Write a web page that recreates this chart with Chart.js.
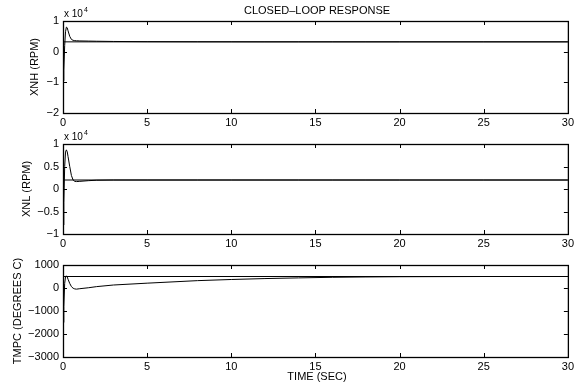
<!DOCTYPE html>
<html>
<head>
<meta charset="utf-8">
<script src="https://cdn.jsdelivr.net/npm/chart.js@4"></script>
<style>
body { margin: 0; background: #fff; }
#wrap { position: relative; width: 577px; height: 385px; }
canvas { position: absolute; left: 0; }
</style>
</head>
<body>
<div id="wrap">
  <canvas id="c1" width="577" height="130" style="top:0px"></canvas>
  <canvas id="c2" width="577" height="120" style="top:130px"></canvas>
  <canvas id="c3" width="577" height="135" style="top:250px"></canvas>
</div>
<script>
/* time axis (sec) and responses */
const time = [0, 0.05, 0.1, 0.15, 0.2, 0.25, 0.3, 0.4, 0.5, 0.6, 0.7, 0.8, 1, 1.5, 2, 3, 5, 8, 10, 12, 14, 16, 18, 20, 25, 30];
const xnh  = [-9500, -6000, 2000, 6500, 8000, 7800, 6800, 5000, 4000, 3700, 3600, 3550, 3500, 3450, 3400, 3330, 3260, 3220, 3210, 3200, 3200, 3200, 3200, 3200, 3200, 3200];
const xnl  = [-8000, -3000, 5000, 8200, 8700, 8300, 7200, 5000, 3000, 2000, 1700, 1650, 1700, 1850, 1950, 2000, 2000, 2000, 2000, 2000, 2000, 2000, 2000, 2000, 2000, 2000];
const tmpc = [-1500, -800, 200, 480, 530, 480, 380, 200, 60, -10, -40, -50, -30, 10, 60, 130, 210, 320, 370, 410, 440, 465, 480, 490, 500, 500];

/* demand lines */
const demandTime = [0, 30];
const xnhDemand  = [3200, 3200];
const xnlDemand  = [2000, 2000];
const tmpcDemand = [500, 500];

const xTicks = [0, 5, 10, 15, 20, 25, 30];

Chart.defaults.font.family = '"Liberation Sans", Arial, Helvetica, sans-serif';
Chart.defaults.font.size = 11;
Chart.defaults.color = '#000';

function pts(xs, ys) {
    return xs.map(function (x, i) { return { x: x, y: ys[i] }; });
}

function minus(s) {
    return String(s).replace('-', '\u2212');
}

// box round the axes with the ticks pointing inward, plus the y label
function frame(yLabel, yLabelX, extra) {
    return {
        id: 'frame',
        afterDraw(chart) {
            const ctx = chart.ctx;
            const a = chart.chartArea;
            const xs = chart.scales.x, ys = chart.scales.y;
            ctx.save();
            ctx.strokeStyle = '#000';
            ctx.lineWidth = 1.3;
            ctx.strokeRect(a.left + 0.5, a.top + 0.5, a.right - a.left, a.bottom - a.top);
            ctx.beginPath();
            xs.ticks.forEach(function (t) {
                const px = Math.round(xs.getPixelForValue(t.value)) + 0.5;
                ctx.moveTo(px, a.bottom); ctx.lineTo(px, a.bottom - 4);
                ctx.moveTo(px, a.top); ctx.lineTo(px, a.top + 4);
            });
            ys.ticks.forEach(function (t) {
                const py = Math.round(ys.getPixelForValue(t.value)) + 0.5;
                ctx.moveTo(a.left, py); ctx.lineTo(a.left + 4, py);
                ctx.moveTo(a.right, py); ctx.lineTo(a.right - 4, py);
            });
            ctx.lineWidth = 1;
            ctx.stroke();
            ctx.fillStyle = '#000';
            ctx.font = '11px "Liberation Sans", Arial, sans-serif';
            ctx.textAlign = 'center';
            ctx.textBaseline = 'middle';
            ctx.translate(yLabelX, (a.top + a.bottom) / 2);
            ctx.rotate(-Math.PI / 2);
            ctx.fillText(yLabel, 0, 0);
            ctx.restore();
            if (extra) extra(ctx, a);
        }
    };
}

// "x 10^4" multiplier above the axes
function exponent(ctx, a) {
    ctx.save();
    ctx.fillStyle = '#000';
    ctx.textBaseline = 'middle';
    ctx.textAlign = 'left';
    ctx.font = '10px "Liberation Sans", Arial, sans-serif';
    ctx.fillText('x 10', a.left + 1, a.top - 7);
    const w = ctx.measureText('x 10').width;
    ctx.font = '7px "Liberation Sans", Arial, sans-serif';
    ctx.fillText('4', a.left + 2 + w, a.top - 11);
    ctx.restore();
}

function makeChart(id, resp, demand, yMin, yMax, yStep, yFmt, padTop, xHeight, yLabel, yLabelX, extra) {
    return new Chart(document.getElementById(id), {
        type: 'line',
        data: {
            datasets: [{
                data: pts(time, resp),
                borderColor: '#000',
                borderWidth: 1
            }, {
                data: pts(demandTime, demand),
                borderColor: '#000',
                borderWidth: 1
            }]
        },
        options: {
            responsive: false,
            animation: false,
            layout: { padding: { top: padTop, right: 5, left: 0, bottom: 0 } },
            elements: { point: { radius: 0 }, line: { tension: 0 } },
            plugins: { legend: { display: false }, tooltip: { enabled: false } },
            scales: {
                x: {
                    type: 'linear', min: 0, max: 30,
                    grid: { display: false, drawTicks: false },
                    border: { display: false },
                    afterBuildTicks: function (s) { s.ticks = xTicks.map(function (v) { return { value: v }; }); },
                    ticks: { padding: 3, maxRotation: 0, autoSkip: false },
                    afterFit: function (s) { s.height = xHeight; }
                },
                y: {
                    min: yMin, max: yMax,
                    grid: { display: false, drawTicks: false },
                    border: { display: false },
                    ticks: { stepSize: yStep, padding: 4, callback: yFmt },
                    afterFit: function (s) { s.width = 63; }
                }
            }
        },
        plugins: [frame(yLabel, yLabelX, extra)]
    });
}

makeChart('c1', xnh, xnhDemand, -20000, 10000, 10000,
    function (v) { return minus(v / 10000); }, 21, 17, 'XNH (RPM)', 35,
    function (ctx, a) {
        exponent(ctx, a);
        ctx.save();
        ctx.fillStyle = '#000';
        ctx.font = '11px "Liberation Sans", Arial, sans-serif';
        ctx.textAlign = 'center';
        ctx.textBaseline = 'middle';
        ctx.fillText('CLOSED\u2013LOOP RESPONSE', 317, 11);
        ctx.restore();
    });

makeChart('c2', xnl, xnlDemand, -10000, 10000, 5000,
    function (v) { return minus(v / 10000); }, 14, 16, 'XNL (RPM)', 27, exponent);

makeChart('c3', tmpc, tmpcDemand, -3000, 1000, 1000,
    function (v) { return minus(v); }, 15, 28, 'TMPC (DEGREES C)', 18,
    function (ctx, a) {
        ctx.save();
        ctx.fillStyle = '#000';
        ctx.font = '11px "Liberation Sans", Arial, sans-serif';
        ctx.textAlign = 'center';
        ctx.textBaseline = 'middle';
        ctx.fillText('TIME (SEC)', 317, 127);
        ctx.restore();
    });
</script>
</body>
</html>
